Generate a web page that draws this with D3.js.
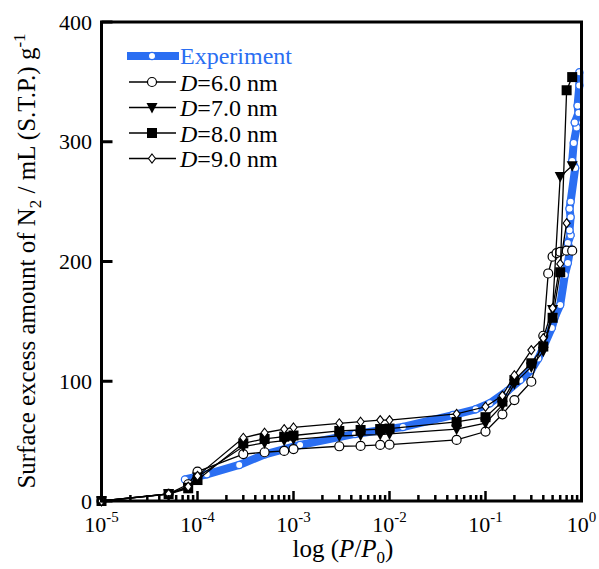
<!DOCTYPE html>
<html>
<head>
<meta charset="utf-8">
<script src="https://cdn.jsdelivr.net/npm/d3@7"></script>
<style>
  body { margin: 0; background: #fff; }
  text { font-family: "Liberation Serif", "Times New Roman", serif; }
</style>
</head>
<body>
<div id="chart"></div>
<script>
// experiment
var expP = [7.4e-5, 1.25e-4, 2.72e-4, 5.05e-4, 1.17e-3, 4.37e-3, 1.38e-2, 4.57e-2, 7.9e-2, 0.111,
            0.17, 0.23, 0.30, 0.355, 0.49, 0.53, 0.60, 0.67, 0.72, 0.76, 0.72, 0.77, 0.75,
            0.77, 0.75, 0.77, 0.86, 0.80, 0.83, 0.89, 0.85, 0.93, 0.91, 0.95, 0.95];
var expV = [18, 22.3, 30.1, 39, 46.8, 56, 61.8, 71.8, 76.6, 81.6,
            92, 101, 109.4, 119, 144.5, 154, 163.7, 188.7, 198.7, 209.6, 215.4, 222, 226,
            237, 244, 250, 278, 284, 299, 312, 316, 324, 330, 347, 358, 364];

// model pressures, null = no point for that pore size
var pModel = [1e-5, 5e-5, 8e-5, 1e-4, 3e-4, 5e-4, 8e-4, 1e-3, 3e-3, 5e-3, 8e-3, 1e-2,
              5e-2, 0.1, 0.15, 0.2, 0.3, 0.4, 0.45, 0.5, 0.55, 0.6, 0.7, 0.8];
var d6 = [0, 6, 14, 24.5, 39.2, 40.7, 41.8, 43.4, 45.7, 46, 46.8, 47,
          51, 58, 72.4, 84.3, 99.6, 138, 190, 204, 207, 208, 209, 209];
var d7 = [0, 6, 11.5, 20, 45.5, 48.5, 50.5, 51.5, 54.3, 55, 55.5, 56,
          60, 65, 80, 98, 112, 125, null, 160, null, 271, null, 280];
var d8 = [0, 5.8, 10.6, 17.5, 48.2, 51.8, 53.7, 54.7, 58.5, 59.3, 60.1, 60.5,
          66, 70, 83, 101, 115, 129, null, 153, null, 191, 343, 354];
var d9 = [0, 6, 12, 21, 52.8, 57, 60, 61.4, 64.9, 66.2, 67.6, 67.6,
          72.7, 78.7, 88, 105, 126, 136, null, 161, null, 198, 232, null];

var seriesNames = ["6.0", "7.0", "8.0", "9.0"];
var seriesMarks = ["circle", "triangle", "square", "diamond"];
var yTicks = [0, 100, 200, 300, 400];
var xDecades = [-5, -4, -3, -2, -1, 0];

var width = 599, height = 569;
var plotL = 101.5, plotR = 581.5, plotT = 22, plotB = 501;
var blue = "#2a6ef2";

var svg = d3.select("#chart").append("svg")
    .attr("width", width)
    .attr("height", height);

var x = d3.scaleLog().domain([1e-5, 1]).range([plotL, plotR]);
var y = d3.scaleLinear().domain([0, 400]).range([plotB, plotT]);

var line = d3.line()
    .x(function (d) { return x(d[0]); })
    .y(function (d) { return y(d[1]); });

// experiment
var expData = expP.map(function (p, i) { return [p, expV[i]]; });
svg.append("path")
    .datum(expData)
    .attr("d", line)
    .attr("fill", "none")
    .attr("stroke", blue)
    .attr("stroke-width", 8)
    .attr("stroke-linejoin", "round");
svg.selectAll(".expdot")
    .data(expData)
    .enter().append("circle")
    .attr("cx", function (d) { return x(d[0]); })
    .attr("cy", function (d) { return y(d[1]); })
    .attr("r", 3.6)
    .attr("fill", "#fff")
    .attr("stroke", blue)
    .attr("stroke-width", 1.2);

function drawMark(g, kind, cx, cy) {
    if (kind == "circle") {
        g.append("circle").attr("cx", cx).attr("cy", cy).attr("r", 4.5)
            .attr("fill", "#fff").attr("stroke", "#000").attr("stroke-width", 1.2);
    } else if (kind == "triangle") {
        g.append("path")
            .attr("d", "M" + (cx - 5.5) + "," + (cy - 4.5) + "L" + (cx + 5.5) + "," + (cy - 4.5) + "L" + cx + "," + (cy + 6) + "Z")
            .attr("fill", "#000");
    } else if (kind == "square") {
        g.append("rect").attr("x", cx - 5).attr("y", cy - 5).attr("width", 10).attr("height", 10)
            .attr("fill", "#000");
    } else {
        g.append("path")
            .attr("d", "M" + cx + "," + (cy - 4.5) + "L" + (cx + 3.5) + "," + cy + "L" + cx + "," + (cy + 4.5) + "L" + (cx - 3.5) + "," + cy + "Z")
            .attr("fill", "#fff").attr("stroke", "#000").attr("stroke-width", 1.1);
    }
}

[d6, d7, d8, d9].forEach(function (vals, k) {
    var data = [];
    pModel.forEach(function (p, i) {
        if (vals[i] != null) data.push([p, vals[i]]);
    });
    var g = svg.append("g");
    g.append("path")
        .datum(data)
        .attr("d", line)
        .attr("fill", "none")
        .attr("stroke", "#000")
        .attr("stroke-width", 1.3);
    data.forEach(function (d) {
        drawMark(g, seriesMarks[k], x(d[0]), y(d[1]));
    });
});

// frame
svg.append("rect")
    .attr("x", plotL).attr("y", plotT)
    .attr("width", plotR - plotL).attr("height", plotB - plotT)
    .attr("fill", "none")
    .attr("stroke", "#000")
    .attr("stroke-width", 3);

// x ticks (inward)
var minor = [];
for (var e = -5; e < 0; e++) {
    for (var m = 2; m <= 9; m++) minor.push(m * Math.pow(10, e));
}
svg.selectAll(".xminor")
    .data(minor)
    .enter().append("line")
    .attr("x1", function (d) { return x(d); })
    .attr("x2", function (d) { return x(d); })
    .attr("y1", plotB)
    .attr("y2", plotB - 6)
    .attr("stroke", "#000")
    .attr("stroke-width", 2.5);
svg.selectAll(".xmajor")
    .data(xDecades)
    .enter().append("line")
    .attr("x1", function (d) { return x(Math.pow(10, d)); })
    .attr("x2", function (d) { return x(Math.pow(10, d)); })
    .attr("y1", plotB)
    .attr("y2", plotB - 10)
    .attr("stroke", "#000")
    .attr("stroke-width", 2.5);

var xl = svg.selectAll(".xlab")
    .data(xDecades)
    .enter().append("text")
    .attr("x", function (d) { return x(Math.pow(10, d)); })
    .attr("y", 532)
    .attr("text-anchor", "middle")
    .style("font-size", "22px");
xl.append("tspan").text("10");
xl.append("tspan")
    .attr("dy", -10)
    .style("font-size", "15px")
    .text(function (d) { return d; });

// y ticks
svg.selectAll(".ytick")
    .data(yTicks)
    .enter().append("line")
    .attr("x1", plotL)
    .attr("x2", plotL + 11)
    .attr("y1", function (d) { return y(d); })
    .attr("y2", function (d) { return y(d); })
    .attr("stroke", "#000")
    .attr("stroke-width", 3);
svg.selectAll(".ylab")
    .data(yTicks)
    .enter().append("text")
    .attr("x", 92)
    .attr("y", function (d) { return y(d) + 7.5; })
    .attr("text-anchor", "end")
    .style("font-size", "22px")
    .text(function (d) { return d; });

// axis titles
var xt = svg.append("text")
    .attr("x", 343)
    .attr("y", 557)
    .attr("text-anchor", "middle")
    .style("font-size", "25px");
xt.append("tspan").text("log (");
xt.append("tspan").style("font-style", "italic").text("P");
xt.append("tspan").text("/");
xt.append("tspan").style("font-style", "italic").text("P");
xt.append("tspan").attr("dy", 6).style("font-size", "17px").text("0");
xt.append("tspan").attr("dy", -6).text(")");

var yt = svg.append("text")
    .attr("transform", "translate(35,261) rotate(-90)")
    .attr("text-anchor", "middle")
    .style("font-size", "25px");
yt.append("tspan").text("Surface excess amount of N");
yt.append("tspan").attr("dy", 6).style("font-size", "17px").text("2");
yt.append("tspan").attr("dy", -6).text(" / mL (S.T.P.) g");
yt.append("tspan").attr("dy", -10).style("font-size", "17px").text("-1");

// legend
var lg = svg.append("g");
lg.append("line")
    .attr("x1", 127).attr("x2", 179).attr("y1", 56).attr("y2", 56)
    .attr("stroke", blue).attr("stroke-width", 8);
lg.append("circle")
    .attr("cx", 152).attr("cy", 56).attr("r", 3.6)
    .attr("fill", "#fff").attr("stroke", blue).attr("stroke-width", 1.2);
lg.append("text")
    .attr("x", 180).attr("y", 64)
    .style("font-size", "24px")
    .style("fill", blue)
    .text("Experiment");

seriesNames.forEach(function (name, k) {
    var ly = 82 + k * 25.5;
    lg.append("line")
        .attr("x1", 129).attr("x2", 176).attr("y1", ly).attr("y2", ly)
        .attr("stroke", "#000").attr("stroke-width", 1.3);
    drawMark(lg, seriesMarks[k], 152, ly);
    var t = lg.append("text")
        .attr("x", 180).attr("y", ly + 8.5)
        .style("font-size", "24px");
    t.append("tspan").style("font-style", "italic").text("D");
    t.append("tspan").text("=" + name + " nm");
});
</script>
</body>
</html>
